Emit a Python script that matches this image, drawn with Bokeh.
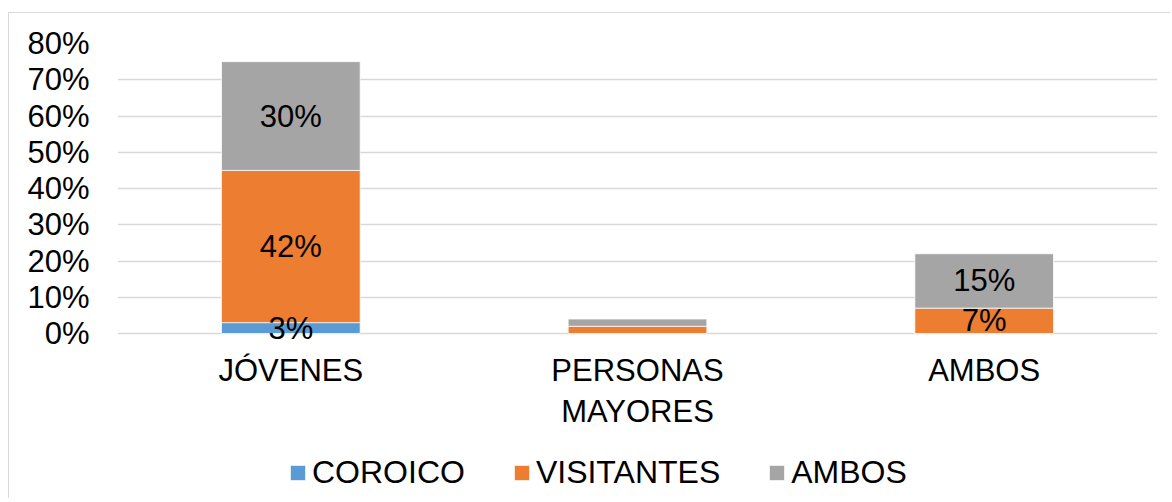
from bokeh.plotting import figure
from bokeh.models import ColumnDataSource, NumeralTickFormatter, Legend, FixedTicker, Range1d
from bokeh.core.properties import value
from bokeh.embed import file_html
from bokeh.resources import INLINE
import numpy as np

categories = ["JÓVENES", "PERSONAS\nMAYORES", "AMBOS"]
series = ["COROICO", "VISITANTES", "AMBOS"]
coroico = [0.03, 0.0, 0.0]
visitantes = [0.42, 0.02, 0.07]
ambos = [0.30, 0.02, 0.15]
labelled = [True, False, True]
colors = ["#5B9BD5", "#ED7D31", "#A5A5A5"]
y_ticks = [0, 0.1, 0.2, 0.3, 0.4, 0.5, 0.6, 0.7, 0.8]

FONT = "Liberation Sans"
FS = "31px"
W, H = 1162, 486
TOP, LEFT, RIGHT = 30, 108, 14
PLOT_H = 290          # pixels used by the 0..80% value area
frame_h = H - TOP
y_max = y_ticks[-1]
y_min = y_max - frame_h / PLOT_H * y_max
px = y_max / PLOT_H   # data units per pixel

keys = ["s0", "s1", "s2"]
data = {"cat": categories, "s0": coroico, "s1": visitantes, "s2": ambos}
src = ColumnDataSource(data)

p = figure(x_range=categories, y_range=Range1d(y_min, y_max), width=W, height=H,
           output_backend="svg", toolbar_location=None,
           min_border_left=LEFT, min_border_right=RIGHT, min_border_top=TOP, min_border_bottom=0)
p.styles = {"border-left": "1px solid #D9D9D9", "border-top": "1px solid #D9D9D9",
            "margin-top": "12px", "margin-left": "8px"}

renderers = p.vbar_stack(keys, x="cat", width=0.4, source=src, color=colors,
                         line_color="white", line_width=0.75)

# data labels
vals = [coroico, visitantes, ambos]
lx, ly, lt = [], [], []
base = np.zeros(len(categories))
for v in vals:
    arr = np.array(v)
    for i, c in enumerate(categories):
        if labelled[i] and arr[i] > 0:
            lx.append(c)
            ly.append(float(base[i] + arr[i] / 2))
            lt.append(f"{round(arr[i]*100)}%")
    base = base + arr
p.text(x=lx, y=ly, text=lt, text_align="center", text_baseline="middle",
       text_font=value(FONT), text_font_size=FS, text_color="black")

# category labels (drawn below the baseline)
p.text(x=categories, y=[-19 * px] * len(categories), text=categories,
       text_align="center", text_baseline="top", text_line_height=1.18,
       text_font=value(FONT), text_font_size=FS, text_color="black")

p.outline_line_color = None
p.xgrid.grid_line_color = None
p.xaxis.visible = False
p.ygrid.grid_line_color = "#D9D9D9"
p.ygrid.grid_line_width = 1.5
p.yaxis.ticker = FixedTicker(ticks=y_ticks)
p.yaxis.formatter = NumeralTickFormatter(format="0%")
p.yaxis.axis_line_color = None
p.yaxis.major_tick_line_color = None
p.yaxis.minor_tick_line_color = None
p.yaxis.major_tick_out = 0
p.yaxis.major_tick_in = 0
p.yaxis.major_label_standoff = 28
p.yaxis.major_label_text_font = FONT
p.yaxis.major_label_text_font_size = FS
p.yaxis.major_label_text_color = "black"

legend = Legend(items=[(s, [r]) for s, r in zip(series, renderers)],
                orientation="horizontal", location=(171, 8),
                label_text_font=FONT, label_text_font_size="32px", label_text_color="black",
                glyph_width=19, glyph_height=19, label_standoff=5, spacing=47,
                border_line_color=None, background_fill_alpha=0, margin=0, padding=0)
p.add_layout(legend)

open("out.html", "w").write(file_html(p, INLINE))
